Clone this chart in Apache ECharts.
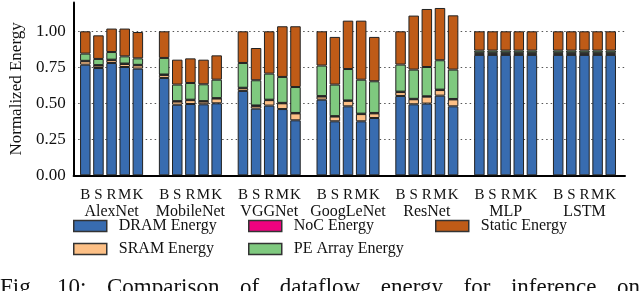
<!DOCTYPE html>
<html><head><meta charset="utf-8">
<script src="https://cdn.jsdelivr.net/npm/echarts@6/dist/echarts.min.js"></script>
<style>html,body{margin:0;padding:0;background:#fff}#c{width:640px;height:291px}</style>
</head><body><div id="c"></div>
<script>
const models = ['AlexNet','MobileNet','VGGNet','GoogLeNet','ResNet','MLP','LSTM'];
const dataflows = ['B','S','R','M','K'];
const dram = [0.768,0.745,0.780,0.752,0.741, 0.676,0.490,0.495,0.493,0.500, 0.586,0.463,0.484,0.460,0.382, 0.525,0.375,0.479,0.375,0.398, 0.551,0.493,0.498,0.553,0.479, 0.836,0.836,0.836,0.836,0.836, 0.836,0.836,0.836,0.836,0.836];
const sram = [0.024,0.017,0.020,0.021,0.023, 0.021,0.022,0.027,0.019,0.033, 0.019,0.019,0.038,0.040,0.048, 0.022,0.033,0.038,0.050,0.032, 0.027,0.035,0.048,0.039,0.048, 0.010,0.010,0.010,0.010,0.010, 0.010,0.010,0.010,0.010,0.010];
const noc = [0.003,0.003,0.003,0.003,0.003, 0.003,0.003,0.003,0.003,0.003, 0.003,0.003,0.003,0.003,0.003, 0.003,0.003,0.003,0.003,0.003, 0.003,0.003,0.003,0.003,0.003, 0.005,0.005,0.005,0.005,0.005, 0.005,0.005,0.005,0.005,0.005];
const pe = [0.050,0.043,0.053,0.050,0.045, 0.115,0.115,0.116,0.117,0.128, 0.172,0.175,0.181,0.180,0.180, 0.212,0.219,0.218,0.236,0.220, 0.188,0.203,0.203,0.204,0.204, 0.015,0.015,0.015,0.015,0.015, 0.015,0.015,0.015,0.015,0.015];
const stat = [0.155,0.164,0.163,0.193,0.183, 0.185,0.173,0.171,0.171,0.169, 0.220,0.224,0.294,0.352,0.422, 0.238,0.331,0.336,0.410,0.308, 0.231,0.375,0.403,0.363,0.377, 0.134,0.134,0.134,0.134,0.134, 0.134,0.134,0.134,0.134,0.134];
const yTicks = [0, 0.25, 0.5, 0.75, 1.0];
const captionWords = ['Fig.','10:','Comparison','of','dataflow','energy','for','inference','on'];

const cats = [], idx = [];
models.forEach((m, gi) => {
  if (gi > 0) { cats.push('gap' + gi); idx.push(-1); }
  dataflows.forEach((d, di) => { cats.push(m + '|' + d); idx.push(gi * 5 + di); });
});
const col = arr => idx.map(i => i < 0 ? '-' : arr[i]);

const serif = 'Liberation Serif';
const seriesDefs = [
  ['DRAM Energy', dram, '#386cb0'],
  ['SRAM Energy', sram, '#fdc086'],
  ['NoC Energy', noc, '#f0027f'],
  ['PE Array Energy', pe, '#7fc97f'],
  ['Static Energy', stat, '#bf5b17']
];
const legendDefs = [
  ['DRAM Energy', 73, 218], ['NoC Energy', 248, 218], ['Static Energy', 435, 218],
  ['SRAM Energy', 73, 241], ['PE Array Energy', 248, 241]
];

// justify caption words across the full width
const capFont = '23px "Liberation Serif"';
const ctx = document.createElement('canvas').getContext('2d');
ctx.font = capFont;
const wWidths = captionWords.map(w => ctx.measureText(w).width);
const gapW = (640 - wWidths.reduce((a, b) => a + b, 0)) / (captionWords.length - 1);
let acc = 0;
const captionX = wWidths.map(w => { const x = acc; acc += w + gapW; return x; });

const chart = echarts.init(document.getElementById('c'), null, {renderer: 'canvas'});
chart.setOption({
  animation: false,
  backgroundColor: '#fff',
  grid: [
    {left: 71.7, right: 15, top: 2.5, bottom: 115.7},
    {left: 78.75, right: 22.7, top: 2.5, bottom: 115.7}
  ],
  xAxis: [
    {gridIndex: 0, type: 'value', min: 0, max: 1, axisLine: {show: true, lineStyle: {color: '#000', width: 2}},
     axisTick: {show: false}, axisLabel: {show: false}, splitLine: {show: false}},
    {gridIndex: 1, type: 'category', data: cats, axisLine: {show: false}, axisTick: {show: false},
     axisLabel: {interval: 0, margin: 12, color: '#111', fontFamily: serif,
       formatter: v => {
         if (v.startsWith('gap')) return '';
         const [m, d] = v.split('|');
         return d === 'R' ? '{a|R}\n{b|' + m + '}' : '{a|' + d + '}';
       },
       rich: {a: {fontFamily: serif, fontSize: 15, lineHeight: 16, color: '#111'},
              b: {fontFamily: serif, fontSize: 16, lineHeight: 17, color: '#111'}}}}
  ],
  yAxis: [
    {gridIndex: 0, type: 'value', min: 0, max: 1.2, interval: 0.25,
     name: 'Normalized Energy', nameLocation: 'middle', nameGap: 48,
     nameTextStyle: {fontFamily: serif, fontSize: 17, color: '#111'},
     axisLine: {show: true, lineStyle: {color: '#000', width: 2}}, axisTick: {show: false},
     axisLabel: {showMaxLabel: false, fontFamily: serif, fontSize: 17, color: '#111', margin: 8,
       formatter: v => yTicks.some(t => Math.abs(t - v) < 1e-9) ? v.toFixed(2) : ''},
     splitLine: {show: true, showMinLine: false, showMaxLine: false, lineStyle: {color: '#555', type: [1.5, 3], width: 1.2}}},
    {gridIndex: 1, type: 'value', min: 0, max: 1.2, show: false, splitLine: {show: false}}
  ],
  legend: legendDefs.map(([n, l, t]) => ({
    data: [{name: n, icon: 'rect'}], left: l, top: t, padding: 0, itemWidth: 33, itemHeight: 11, selectedMode: false,
    itemStyle: {borderColor: '#333', borderWidth: 1.5},
    formatter: '{t|{name}}',
    textStyle: {fontFamily: serif, fontSize: 16, color: '#111',
      rich: {t: {fontFamily: serif, fontSize: 16, color: '#111', padding: [0, 0, 0, 7]}}}
  })),
  series: seriesDefs.map(([name, arr, color]) => ({
    name, type: 'bar', stack: 'energy', xAxisIndex: 1, yAxisIndex: 1, data: col(arr), barWidth: 10.5,
    itemStyle: {color, borderColor: '#222', borderWidth: 1}
  })),
  graphic: captionWords.map((w, i) => ({
    type: 'text', left: captionX[i], top: 276, silent: true,
    style: {text: w, font: capFont, fill: '#111'}
  }))
});
</script></body></html>
